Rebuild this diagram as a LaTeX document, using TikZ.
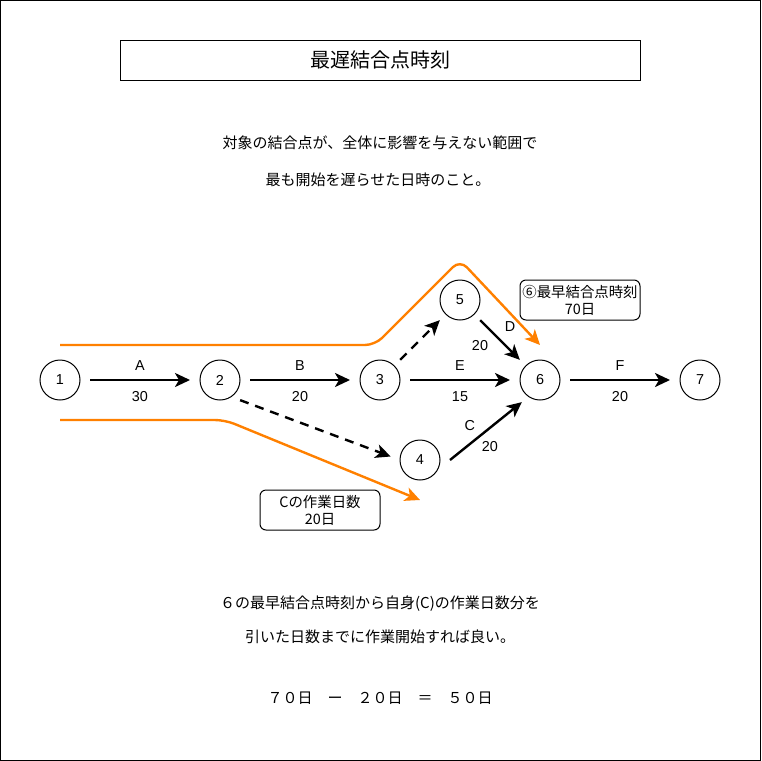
\documentclass[tikz,border=0pt]{standalone}
\usepackage{fontspec}
\setmainfont{Liberation Sans}
\newfontfamily\jp{Noto Sans CJK JP}
\usetikzlibrary{arrows.meta, positioning}
\definecolor{PathOrange}{HTML}{FF8000}
\tikzset{
  event/.style={circle, draw, line width=1pt, minimum size=40pt, inner sep=0pt, outer sep=0pt, font=\fontsize{14.4}{17}\selectfont},
  actarrow/.style={-{Stealth[length=15pt, width=14pt, inset=4pt]}, line width=2.4pt, shorten <=10pt, shorten >=10pt},
  dummyarrow/.style={actarrow, dash pattern=on 9pt off 7pt},
  critpath/.style={-{Stealth[length=15pt, width=14pt, inset=4pt]}, draw=PathOrange, line width=2.4pt, rounded corners=10pt},
  actlabel/.style={inner sep=0pt, font=\fontsize{14.4}{17}\selectfont},
  notebox/.style={rectangle, rounded corners=6pt, draw, line width=1pt, minimum width=120pt, minimum height=40pt, inner sep=0pt, align=center, font=\jp\fontsize{14.4}{17}\selectfont},
  titlebox/.style={rectangle, draw, line width=1pt, minimum width=520pt, minimum height=40pt, font=\jp\fontsize{20}{23}\selectfont},
  bodytext/.style={inner sep=0pt, font=\jp\fontsize{15}{18}\selectfont}
}

\begin{document}
\begin{tikzpicture}[x=1pt, y=-1pt]
  \useasboundingbox (0,0) rectangle (761,761);
  \draw[line width=1pt] (0.5,0.5) rectangle (760.5,760.5);

  \node[titlebox] (title) at (380,60) {最遅結合点時刻};
  \node[bodytext] (def1) at (380,143) {対象の結合点が、全体に影響を与えない範囲で};
  \node[bodytext] (def2) at (378,180) {最も開始を遅らせた日時のこと。};

  % events
  \node[event] (n1) at (60,380) {1};
  \node[event, right=120pt of n1] (n2) {2};
  \node[event, right=120pt of n2] (n3) {3};
  \node[event, right=120pt of n3] (n6) {6};
  \node[event, right=120pt of n6] (n7) {7};
  \node[event] (n5) at (460,300) {5};
  \node[event] (n4) at (420,460) {4};

  % activities
  \draw[actarrow] (n1) -- node[actlabel, above=8pt] {A} node[actlabel, below=10.5pt] {30} (n2);
  \draw[actarrow] (n2) -- node[actlabel, above=8pt] {B} node[actlabel, below=10.5pt] {20} (n3);
  \draw[actarrow] (n3) -- node[actlabel, above=8pt] {E} node[actlabel, below=10.5pt] {15} (n6);
  \draw[actarrow] (n6) -- node[actlabel, above=8pt] {F} node[actlabel, below=10.5pt] {20} (n7);
  \draw[actarrow, shorten <=8.5pt, shorten >=8.5pt] (n5) -- node[actlabel, xshift=10pt, yshift=13pt] {D} node[actlabel, xshift=-20pt, yshift=-6pt] {20} (n6);
  \draw[actarrow, shorten <=0pt, shorten >=0pt] ([xshift=10pt]n4.east) -- node[actlabel, xshift=-16pt, yshift=6pt] {C} node[actlabel, xshift=4pt, yshift=-15pt] {20} ([xshift=-4pt, yshift=-8pt]n6.south west);

  % dummy activities
  \draw[dummyarrow, shorten <=8.5pt, shorten >=8.5pt] (n3) -- (n5);
  \draw[dummyarrow, shorten <=0pt] ([xshift=6pt, yshift=-6pt]n2.south east) -- (n4.west);

  % paths into event 6
  \coordinate (up0) at (60,345);
  \coordinate (up1) at (375,345);
  \coordinate (up2) at (460,260);
  \coordinate (up3) at (540,345);
  \coordinate (lo0) at (60,420);
  \coordinate (lo1) at (225,420);
  \coordinate (lo2) at (420,500);
  \draw[critpath] (up0) -- (up1) -- (up2) -- (up3);
  \draw[critpath] (lo0) -- (lo1) -- (lo2);

  \node[notebox] (early6) at (580,300) {⑥最早結合点時刻\\70日};
  \node[notebox] (durC) at (320,510) {Cの作業日数\\20日};

  \node[bodytext] (rule1) at (380,604) {６の最早結合点時刻から自身(C)の作業日数分を};
  \node[bodytext] (rule2) at (380,637) {引いた日数までに作業開始すれば良い。};
  \node[bodytext] (calc) at (380,698) {７０日　ー　２０日　＝　５０日};
\end{tikzpicture}
\end{document}
